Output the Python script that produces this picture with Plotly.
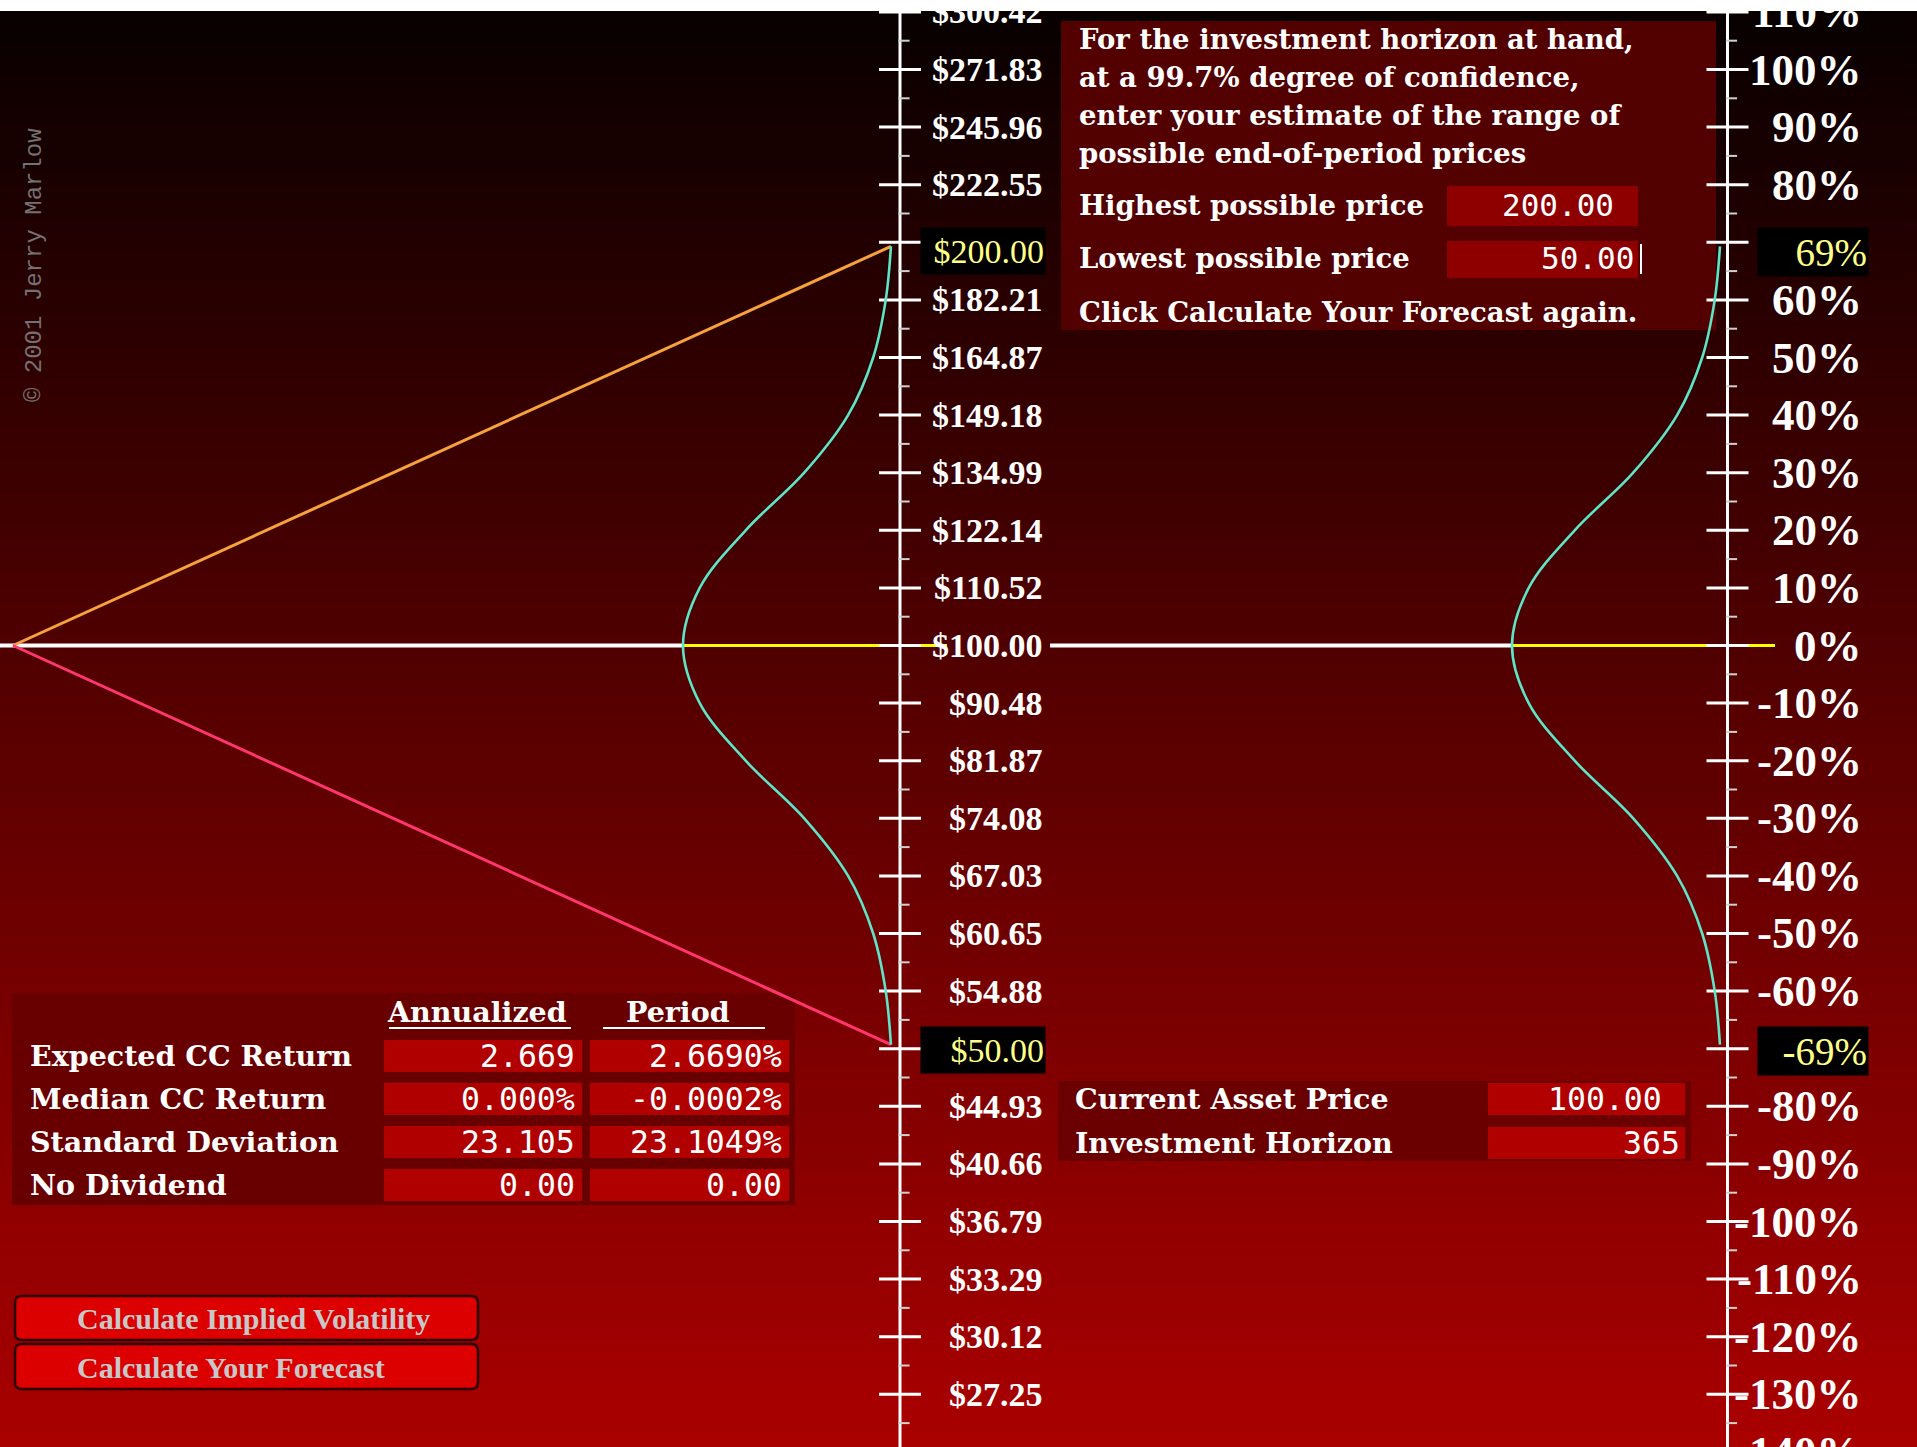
import plotly.graph_objects as go

# ---------------------------------------------------------------- data
tick_pct = [110, 100, 90, 80, 70, 60, 50, 40, 30, 20, 10, 0, -10, -20, -30, -40,
            -50, -60, -70, -80, -90, -100, -110, -120, -130, -140]
price_labels = ["$300.42", "$271.83", "$245.96", "$222.55", "$201.38", "$182.21",
                "$164.87", "$149.18", "$134.99", "$122.14", "$110.52", "$100.00",
                "$90.48", "$81.87", "$74.08", "$67.03", "$60.65", "$54.88", "$49.66",
                "$44.93", "$40.66", "$36.79", "$33.29", "$30.12", "$27.25"]
pct_labels = ["110%", "100%", "90%", "80%", "70%", "60%", "50%", "40%", "30%", "20%",
              "10%", "0%", "-10%", "-20%", "-30%", "-40%", "-50%", "-60%", "-70%",
              "-80%", "-90%", "-100%", "-110%", "-120%", "-130%", "-140%"]
minor_pct = [105, 95, 85, 75, 65, 55, 45, 35, 25, 15, 5, -5, -15, -25, -35, -45,
             -55, -65, -75, -85, -95, -105, -115, -125, -135]

path_days = [0, 365]
high_path_pct = [0, 69.3]
low_path_pct = [0, -69.3]
high_ret_pct, low_ret_pct = 69.3, -69.3
high_price_label, low_price_label = "$200.00", "$50.00"
high_pct_label, low_pct_label = "69%", "-69%"

density_ret_pct = [69.3, 60, 50, 40, 30, 20, 10, 0, -10, -20, -30, -40, -50, -60, -69.3]
density_rel = [0.005, 0.03, 0.09, 0.21, 0.42, 0.70, 0.92, 1.0, 0.92, 0.70, 0.42, 0.21,
               0.09, 0.03, 0.005]

info_lines = ["For the investment horizon at hand,", "at a 99.7% degree of confidence,",
              "enter your estimate of the range of", "possible end-of-period prices"]
input_labels = ["Highest possible price", "Lowest possible price"]
input_values = ["200.00", "50.00"]
info_footer = "Click Calculate Your Forecast again."

stat_headers = ["Annualized", "Period"]
stat_rows = ["Expected CC Return", "Median CC Return", "Standard Deviation", "No Dividend"]
annualized_vals = ["2.669", "0.000%", "23.105", "0.00"]
period_vals = ["2.6690%", "-0.0002%", "23.1049%", "0.00"]

asset_labels = ["Current Asset Price", "Investment Horizon"]
asset_values = ["100.00", "365"]
button_labels = ["Calculate Implied Volatility", "Calculate Your Forecast"]
copyright_text = "© 2001 Jerry Marlow"

# ---------------------------------------------------------------- layout constants
W, H, TOP = 1917, 1447, 11
Y_PX0 = 645.5          # pixel row of 0 %
PX_PER_PCT = 5.76
Y_MIN = -(H - Y_PX0) / PX_PER_PCT
Y_MAX = (Y_PX0 - TOP) / PX_PER_PCT
AXIS_L, AXIS_R = 900, 1727.5
DAY0_PX, HORIZON_PX = 13, 891


def fx(px):
    return px / W


def fy(py):
    return (H - py) / (H - TOP)


def yp(v):
    return (v - Y_MIN) / (Y_MAX - Y_MIN)


ppd = (HORIZON_PX - DAY0_PX) / 365.0


def dens_axis(peak_px, base_px, left_px, right_px):
    s = base_px - peak_px
    return dict(domain=[left_px / W, right_px / W],
                range=[(base_px - left_px) / s, (base_px - right_px) / s],
                visible=False, fixedrange=True, anchor="y")


SERIF = "Liberation Serif"
SLAB = "DejaVu Serif"
MONO = "DejaVu Sans Mono"

fig = go.Figure()

# diagonal forecast lines
fig.add_trace(go.Scatter(x=path_days, y=high_path_pct, mode="lines",
                         line=dict(color="#f8a23c", width=3), hoverinfo="skip"))
fig.add_trace(go.Scatter(x=path_days, y=low_path_pct, mode="lines",
                         line=dict(color="#ff3570", width=3), hoverinfo="skip"))
# density curves
for ax in ("x2", "x3"):
    fig.add_trace(go.Scatter(x=density_rel, y=density_ret_pct, xaxis=ax, mode="lines",
                             line=dict(color="#5ee4c6", width=2.6, shape="spline"),
                             hoverinfo="skip"))
# axis ticks
for axpx in (AXIS_L, AXIS_R):
    fig.add_trace(go.Scatter(x=[axpx] * len(tick_pct), y=tick_pct, xaxis="x4",
                             mode="markers", hoverinfo="skip",
                             marker=dict(symbol="line-ew", size=30, color="white",
                                         line=dict(width=3, color="white"))))
    fig.add_trace(go.Scatter(x=[axpx + 4] * len(minor_pct), y=minor_pct, xaxis="x4",
                             mode="markers", hoverinfo="skip",
                             marker=dict(symbol="line-ew", size=8, color="#d0d0d0",
                                         line=dict(width=2, color="#d0d0d0"))))

shapes = []
# background gradient
N = 90
top_c, bot_c = (8, 0, 0), (170, 0, 0)
for i in range(N):
    a = TOP + (H - TOP) * i / N
    b = TOP + (H - TOP) * (i + 1) / N + 1
    t = (i + 0.5) / N
    c = tuple(int(round(top_c[k] + (bot_c[k] - top_c[k]) * t)) for k in range(3))
    shapes.append(dict(type="rect", xref="paper", yref="paper", x0=0, x1=1,
                       y0=fy(min(b, H)), y1=fy(a), line=dict(width=0),
                       fillcolor="rgb(%d,%d,%d)" % c, layer="below"))


def rect(x0, y0, x1, y1, fill, line=None):
    shapes.append(dict(type="rect", xref="paper", yref="paper", x0=fx(x0), x1=fx(x1),
                       y0=fy(y1), y1=fy(y0), fillcolor=fill,
                       line=line or dict(width=0), layer="below"))


def rrect(x0, y0, x1, y1, r, fill, lc, lw):
    P = lambda x, y: "%f,%f" % (fx(x), fy(y))
    path = ("M " + P(x0 + r, y0) + " L " + P(x1 - r, y0) + " Q " + P(x1, y0) + " " + P(x1, y0 + r) +
            " L " + P(x1, y1 - r) + " Q " + P(x1, y1) + " " + P(x1 - r, y1) +
            " L " + P(x0 + r, y1) + " Q " + P(x0, y1) + " " + P(x0, y1 - r) +
            " L " + P(x0, y0 + r) + " Q " + P(x0, y0) + " " + P(x0 + r, y0) + " Z")
    shapes.append(dict(type="path", xref="paper", yref="paper", path=path, fillcolor=fill,
                       line=dict(color=lc, width=lw), layer="below"))


# panels
rect(1061, 21, 1716, 330, "#520000")
rect(1447, 186, 1638, 226, "#8e0000")
rect(1447, 241, 1638, 278, "#8e0000")
rect(12, 993, 795, 1205, "#690000")
stat_row_px = [1056, 1099, 1142, 1185]
for py in stat_row_px:
    rect(384, py - 16, 582, py + 16, "#b00000")
    rect(590, py - 16, 789, py + 16, "#b00000")
rect(1058, 1081, 1691, 1161, "#6a0000")
asset_row_px = [1099, 1143]
for py in asset_row_px:
    rect(1488, py - 16, 1685, py + 16, "#b00000")
rrect(15, 1296, 478, 1340, 7, "#dc0000", "#2a0000", 2.5)
rrect(15, 1344, 478, 1389, 7, "#dc0000", "#2a0000", 2.5)


def hline(x0, x1, color, w):
    shapes.append(dict(type="line", xref="paper", yref="y", x0=fx(x0), x1=fx(x1), y0=0, y1=0,
                       line=dict(color=color, width=w), layer="below"))


hline(0, 683, "#ffffff", 4)
hline(683, 947, "#ffff00", 3)
hline(1050, 1512, "#ffffff", 4)
hline(1512, 1775, "#ffff00", 3)
for axpx in (AXIS_L, AXIS_R):
    shapes.append(dict(type="line", xref="paper", yref="paper", x0=fx(axpx), x1=fx(axpx),
                       y0=0, y1=1, line=dict(color="white", width=3), layer="below"))
# header underlines & cursor
for (a, b) in ((389, 571), (603, 765)):
    shapes.append(dict(type="line", xref="paper", yref="paper", x0=fx(a), x1=fx(b),
                       y0=fy(1028), y1=fy(1028), line=dict(color="white", width=2)))
shapes.append(dict(type="line", xref="paper", yref="paper", x0=fx(1641), x1=fx(1641),
                   y0=fy(244), y1=fy(274), line=dict(color="white", width=2)))

ann = []


def text(x, y, s, family, size, color="white", bold=False, xanchor="left", yanchor="middle",
         **kw):
    d = dict(x=x, y=y, xref="paper", yref="paper", text=s, showarrow=False,
             xanchor=xanchor, yanchor=yanchor,
             font=dict(family=family, size=size, color=color,
                       weight="bold" if bold else "normal"))
    d.update(kw)
    ann.append(d)


# axis labels
for v, lab in zip(tick_pct, price_labels):
    text(fx(1045), yp(v), lab, SERIF, 34, bold=True, xanchor="right")
for v, lab in zip(tick_pct, pct_labels):
    text(fx(1864), yp(v), lab, SERIF, 45, bold=True, xanchor="right")
# highlighted bounds
for v, lab in ((high_ret_pct, high_price_label), (low_ret_pct, low_price_label)):
    text(fx(1046), yp(v), lab, SERIF, 34, color="#ffff88", xanchor="right",
         bgcolor="#000000", width=122, height=44, align="right", yshift=-5)
for v, lab in ((high_ret_pct, high_pct_label), (low_ret_pct, low_pct_label)):
    text(fx(1869), yp(v), lab, SERIF, 39, color="#ffff88", xanchor="right",
         bgcolor="#000000", width=108, height=46, align="right", yshift=-6)

# info box
for py, s in zip([39, 77, 115, 153], info_lines):
    text(fx(1077), fy(py), s, SLAB, 27.5, bold=True)
for py, s, val, vx in zip([205, 258], input_labels, input_values, [1616, 1636]):
    text(fx(1077), fy(py), s, SLAB, 27.5, bold=True)
    text(fx(vx), fy(py), val, MONO, 31, xanchor="right")
text(fx(1077), fy(312), info_footer, SLAB, 27.5, bold=True)

# stats table
text(fx(477), fy(1012), stat_headers[0], SLAB, 28.5, bold=True, xanchor="center")
text(fx(678), fy(1012), stat_headers[1], SLAB, 28.5, bold=True, xanchor="center")
for py, lab, a, p in zip(stat_row_px, stat_rows, annualized_vals, period_vals):
    text(fx(28), fy(py), lab, SLAB, 28.5, bold=True)
    text(fx(577), fy(py), a, MONO, 31.5, xanchor="right")
    text(fx(784), fy(py), p, MONO, 31.5, xanchor="right")

# asset box
for py, lab, val, vx in zip(asset_row_px, asset_labels, asset_values, [1664, 1682]):
    text(fx(1073), fy(py), lab, SLAB, 28.5, bold=True)
    text(fx(vx), fy(py), val, MONO, 31.5, xanchor="right")

# buttons
for py, lab in zip([1318, 1367], button_labels):
    text(fx(75), fy(py), lab, SERIF, 30, color="#c8c8c8", bold=True)

# copyright
text(fx(34), fy(265), copyright_text, "Liberation Mono", 24, color="#727272",
     xanchor="center", textangle=-90)

fig.update_layout(
    width=W, height=H, margin=dict(l=0, r=0, t=TOP, b=0, pad=0),
    paper_bgcolor="#ffffff", plot_bgcolor="rgba(0,0,0,0)", showlegend=False,
    xaxis=dict(domain=[0, 1], range=[-DAY0_PX / ppd, (W - DAY0_PX) / ppd], visible=False,
               fixedrange=True),
    xaxis2=dens_axis(683, 892, 640, 899),
    xaxis3=dens_axis(1512, 1721, 1470, 1726),
    xaxis4=dict(domain=[0, 1], range=[0, W], visible=False, overlaying="x", anchor="y",
                fixedrange=True),
    yaxis=dict(domain=[0, 1], range=[Y_MIN, Y_MAX], visible=False, fixedrange=True),
    shapes=shapes, annotations=ann, hovermode=False,
)

fig.write_html("out.html", config={"displayModeBar": False},
               post_script="document.body.style.margin='0';"
                           "document.body.style.overflow='hidden';")
